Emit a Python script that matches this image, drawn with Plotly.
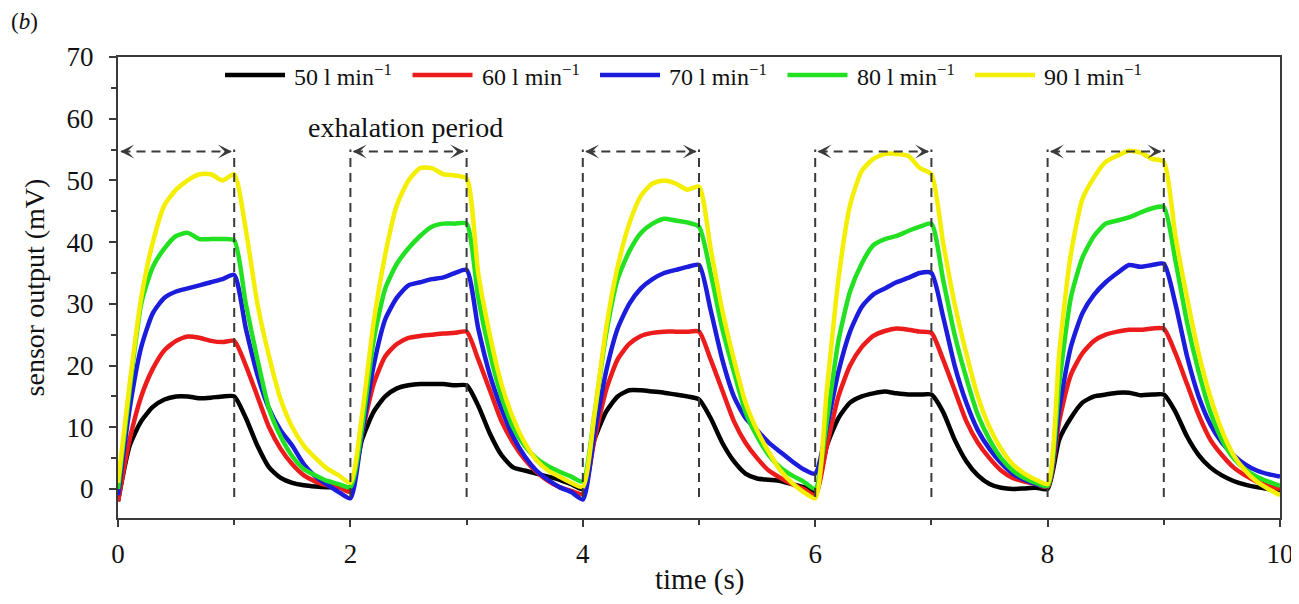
import numpy as np
import plotly.graph_objects as go

# time grid (s), 0.1 s sampling
TIME = np.round(np.linspace(0, 10, 101), 2)

FLOW_LABELS = ["50 l min<sup>−1</sup>", "60 l min<sup>−1</sup>", "70 l min<sup>−1</sup>",
               "80 l min<sup>−1</sup>", "90 l min<sup>−1</sup>"]
COLORS = ["#000000", "#ec1c1c", "#1c1cdc", "#22e022", "#f4ee00"]

# sensor output (mV)
BLACK_50 = [-2, 7, 11, 13.3, 14.5, 15, 15, 14.7, 14.8, 15, 15,
            11.5, 7, 3.5, 1.8, 1, 0.6, 0.4, 0.3, 0.3, 0.3,
            8, 12.5, 15, 16.3, 16.8, 17, 17, 17, 16.8, 16.8,
            13.5, 9, 5.5, 3.5, 3, 2.5, 2, 1.5, 0.8, 0,
            8, 12.5, 15, 16, 16, 15.8, 15.6, 15.3, 15, 14.5,
            11.5, 7.5, 4.5, 2.5, 1.7, 1.5, 1.3, 0.8, 0.3, -0.5,
            7, 11.5, 14, 15, 15.5, 15.8, 15.5, 15.3, 15.3, 15.3,
            12.5, 8, 4.5, 2.2, 0.8, 0.2, 0, 0.1, 0.2, 0,
            8, 11.5, 14, 15, 15.3, 15.6, 15.6, 15.2, 15.3, 15.3,
            12.5, 8.5, 5.5, 3.5, 2.2, 1.3, 0.7, 0.3, 0, -0.2]

RED_60 = [-2, 8, 15, 19.5, 22.5, 24, 24.7, 24.5, 24, 23.8, 24,
          20, 15, 10, 6.5, 4, 2.2, 1.2, 0.6, 0.3, -0.5,
          9, 17, 21.5, 23.5, 24.5, 24.8, 25, 25.2, 25.3, 25.5,
          21, 16, 11, 7.5, 4.8, 2.8, 1.3, 0.3, -0.3, -0.8,
          8, 16, 21, 23.5, 24.8, 25.3, 25.5, 25.5, 25.5, 25.5,
          21, 16, 11, 7.5, 5, 3, 1.8, 0.8, 0, -1,
          7, 15, 20, 23, 24.8, 25.6, 26, 25.8, 25.5, 25.3,
          21, 16, 11, 7.5, 5, 3, 1.8, 1.2, 0.8, 0.3,
          11, 18.5, 22, 24, 25, 25.5, 25.8, 25.8, 26, 26,
          22, 17, 12, 8, 5.5, 3.5, 2.2, 1.2, 0.5, 0]

BLUE_70 = [-1, 13, 23, 28.5, 31, 32, 32.5, 33, 33.5, 34, 34.7,
           26, 18.5, 13, 9.5, 7, 4, 2, 0.7, -0.5, -1.5,
           9, 20, 27.5, 31, 33, 33.5, 34, 34.3, 35, 35.5,
           26, 18.5, 13, 8.5, 5.3, 3, 1.5, 0.3, -0.5, -1.7,
           9, 19, 26, 30, 32.5, 34, 35, 35.5, 36, 36.3,
           29, 21, 15, 11.5, 9.5, 7.5, 6, 4.5, 3.2, 2.5,
           10, 19, 25.5, 29.5, 31.5, 32.5, 33.5, 34.2, 35, 35,
           28, 20, 14, 9.5, 6.5, 4.2, 2.5, 1.5, 0.8, 0.5,
           13, 23, 28.5, 31.5, 33.5, 35, 36.3, 36, 36.3, 36.5,
           30, 21.5, 15, 10.5, 7.5, 5.5, 4, 3, 2.4, 2]

GREEN_80 = [0, 16, 30, 36, 39, 41, 41.5, 40.5, 40.5, 40.5, 40.3,
            30, 21, 13, 8.5, 5.3, 3.2, 2.2, 1.3, 0.8, 0.3,
            10, 24, 32.5, 36.5, 39, 41, 42.5, 43, 43, 43,
            31, 22, 15, 10, 7, 5, 3.7, 2.8, 2, 1.2,
            12, 25, 34, 38.5, 41.5, 43, 43.8, 43.5, 43.2, 42.5,
            35, 26, 19, 12.5, 8.5, 5.5, 3.5, 2.2, 1.2, 0,
            11, 24, 32, 36.5, 39.5, 40.5, 41, 41.8, 42.5, 43,
            34, 25, 18, 12, 8, 5, 3, 1.8, 1, 0.5,
            17, 31, 37.5, 41, 43, 43.5, 44, 44.8, 45.5, 45.7,
            37, 27, 19, 12.5, 8, 5, 3.2, 2, 1.2, 0.5]

YELLOW_90 = [1, 17, 31, 40, 46, 48.5, 50, 51, 51, 50, 51,
             42, 30, 21.5, 14.5, 10, 7, 5, 3.3, 2.2, 1,
             12, 27, 38, 46, 50, 52, 52, 51, 50.8, 50.3,
             35, 25, 17, 11.5, 7.5, 4.7, 3, 2, 1, 0.3,
             12, 26, 36, 43, 47.5, 49.5, 50, 49.5, 48.5, 49,
             39, 29, 21, 14, 9.5, 6, 3, 1, -0.5, -1.5,
             16, 34, 46, 51.5, 53.5, 54.3, 54.3, 54, 52, 51,
             40, 30, 22, 15, 10, 6.5, 4, 2.5, 1.5, 0.8,
             22, 38, 47, 50.5, 53, 54, 54.8, 54.5, 53.5, 53,
             41, 31, 22, 15, 9.5, 5.5, 3, 1.2, 0, -1]

SERIES = [BLACK_50, RED_60, BLUE_70, GREEN_80, YELLOW_90]

# exhalation periods (s)
PERIOD_STARTS = [0, 2, 4, 6, 8]
PERIOD_LEN = 1.0
ARROW_LEVEL = 54.7
DASH_BOTTOM = -1.3
TEXT_X, TEXT_Y = 2.47, 58.6

SERIF = "Liberation Serif"
AX_COLOR = "#3a3a3a"
TXT = "#111111"

# page geometry: the page body adds an 8 px offset around the figure
OFF = 8
W, H = 1290, 604 - 2 * OFF
PLOT_LEFT, PLOT_RIGHT, PLOT_TOP, PLOT_BOTTOM = 118, 1280, 57, 518  # screen px
L = PLOT_LEFT - OFF
T = PLOT_TOP - OFF
R = W - (PLOT_RIGHT - OFF)
B = H - (PLOT_BOTTOM - OFF)
PW, PH = PLOT_RIGHT - PLOT_LEFT, PLOT_BOTTOM - PLOT_TOP


def px_x(p):
    return (p - PLOT_LEFT) / PW


def px_y(p):
    return (PLOT_BOTTOM - p) / PH


fig = go.Figure()
for name, vals, col in zip(FLOW_LABELS, SERIES, COLORS):
    fig.add_trace(go.Scatter(x=TIME, y=vals, mode="lines", name=name, showlegend=False,
                             line=dict(color=col, width=4.5, shape="spline", smoothing=0.6)))

shapes = []
annotations = []
for s in PERIOD_STARTS:
    e = s + PERIOD_LEN
    for xv in ([s] if s > 0 else []) + [e]:
        shapes.append(dict(type="line", xref="x", yref="y", x0=xv, x1=xv,
                           y0=DASH_BOTTOM, y1=ARROW_LEVEL + 0.3,
                           line=dict(color=AX_COLOR, width=2, dash="9px,6px")))
    shapes.append(dict(type="line", xref="x", yref="y", x0=s + 0.03, x1=e - 0.03,
                       y0=ARROW_LEVEL, y1=ARROW_LEVEL,
                       line=dict(color=AX_COLOR, width=2, dash="9px,6px")))
    for tip, tail in [(s + 0.02, s + 0.09), (e - 0.02, e - 0.09)]:
        annotations.append(dict(x=tip, y=ARROW_LEVEL, ax=tail, ay=ARROW_LEVEL,
                                xref="x", yref="y", axref="x", ayref="y",
                                text="", showarrow=True, arrowhead=3, arrowsize=1.3,
                                arrowwidth=1.8, arrowcolor=AX_COLOR))

annotations.append(dict(x=TEXT_X, y=TEXT_Y, xref="x", yref="y", text="exhalation period",
                        showarrow=False, font=dict(family=SERIF, size=28, color=TXT)))
annotations.append(dict(x=px_x(9), y=px_y(21), xref="paper", yref="paper",
                        xanchor="left", yanchor="middle", text="(<i>b</i>)", showarrow=False,
                        font=dict(family=SERIF, size=23, color=TXT)))
# x-axis title placed as in the original
annotations.append(dict(x=0.5, y=px_y(579), xref="paper", yref="paper",
                        xanchor="center", yanchor="middle", text="time (s)", showarrow=False,
                        font=dict(family=SERIF, size=29, color=TXT)))

# custom legend (long line samples as in the original)
LEG_X0, LEG_STEP, LEG_LINE, LEG_Y = 225, 187.5, 60, 75
for i, (name, col) in enumerate(zip(FLOW_LABELS, COLORS)):
    x0 = LEG_X0 + i * LEG_STEP
    shapes.append(dict(type="line", xref="paper", yref="paper",
                       x0=px_x(x0), x1=px_x(x0 + LEG_LINE), y0=px_y(LEG_Y), y1=px_y(LEG_Y),
                       line=dict(color=col, width=4.5)))
    annotations.append(dict(x=px_x(x0 + LEG_LINE + 7), y=px_y(LEG_Y), xref="paper",
                            yref="paper", xanchor="left", yanchor="middle", text=name,
                            showarrow=False, font=dict(family=SERIF, size=24, color=TXT)))

fig.update_layout(
    width=W, height=H,
    margin=dict(l=L, r=R, t=T, b=B),
    paper_bgcolor="white", plot_bgcolor="white",
    font=dict(family=SERIF, size=22, color=TXT),
    shapes=shapes, annotations=annotations,
    showlegend=False,
)

fig.update_xaxes(range=[0, 10], tickvals=[0, 2, 4, 6, 8, 10], ticks="outside", ticklen=7,
                 tickwidth=2, tickcolor=AX_COLOR, showline=True, linecolor=AX_COLOR,
                 linewidth=2, mirror=True, showgrid=False, zeroline=False, automargin=False,
                 ticklabelstandoff=4,
                 minor=dict(tickvals=[1, 3, 5, 7, 9], ticks="outside", ticklen=5,
                            tickwidth=2, tickcolor=AX_COLOR),
                 tickfont=dict(family=SERIF, size=27, color=TXT))
fig.update_yaxes(range=[-4.7, 70], tickvals=[0, 10, 20, 30, 40, 50, 60, 70], ticks="outside",
                 ticklen=7, tickwidth=2, tickcolor=AX_COLOR, showline=True,
                 linecolor=AX_COLOR, linewidth=2, mirror=True, showgrid=False,
                 zeroline=False, automargin=False, ticklabelstandoff=10,
                 minor=dict(tickvals=[5, 15, 25, 35, 45, 55, 65], ticks="outside",
                            ticklen=5, tickwidth=2, tickcolor=AX_COLOR),
                 tickfont=dict(family=SERIF, size=27, color=TXT),
                 title=dict(text="sensor output (mV)",
                            font=dict(family=SERIF, size=28, color=TXT), standoff=14))

fig.write_html("out.html")
